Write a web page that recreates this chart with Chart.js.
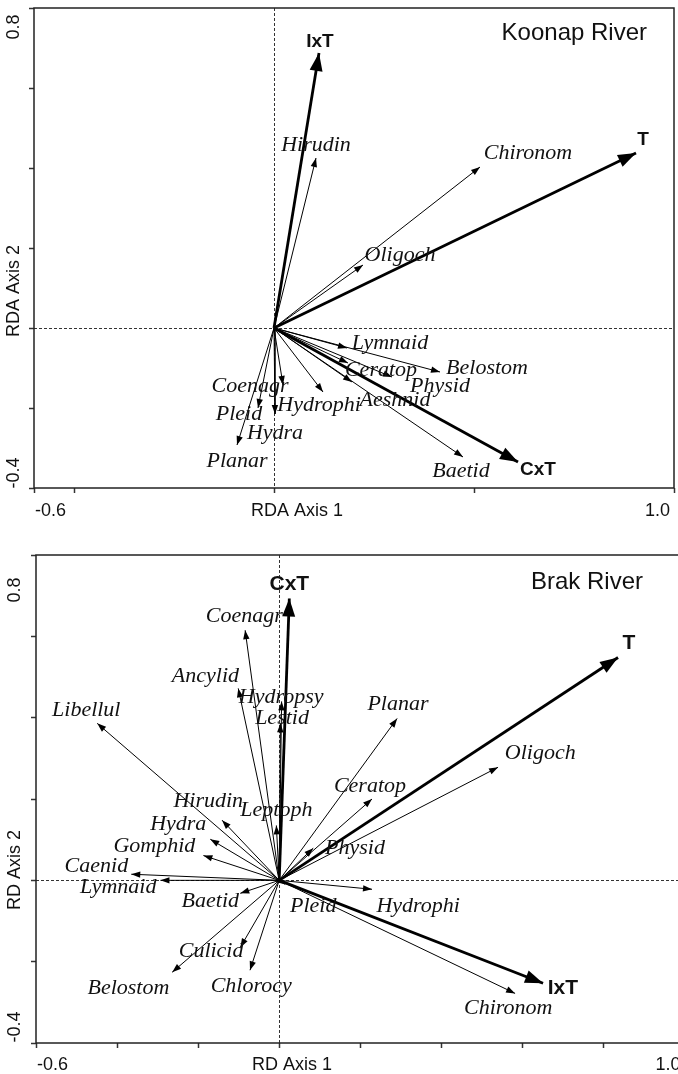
<!DOCTYPE html>
<html>
<head>
<meta charset="utf-8">
<script src="https://cdn.jsdelivr.net/npm/chart.js@4"></script>
<style>
  html, body { margin: 0; padding: 0; background: #fff; overflow: hidden; }
  #wrap { position: relative; width: 678px; height: 1074px; overflow: hidden; }
  #koonap { position: absolute; left: 0; top: 0; }
  #brak { position: absolute; left: 0; top: 530px; }
</style>
</head>
<body>
<div id="wrap">
  <canvas id="koonap" width="678" height="530"></canvas>
  <canvas id="brak" width="692" height="544"></canvas>
</div>
<script>
  // axis ranges and ticks
  const axis1Range = [-0.6, 1.0]
  const axis2Range = [-0.4, 0.8]
  const koonapTicksX = [-0.6, -0.5, 0, 0.5, 1.0]
  const brakTicksX = [-0.6, -0.4, -0.2, 0, 0.2, 0.4, 0.6, 0.8, 1.0]
  const ticksY = [-0.4, -0.2, 0, 0.2, 0.4, 0.6, 0.8]

  // Koonap River - taxa
  const koonapTaxa = ['Hirudin', 'Chironom', 'Oligoch', 'Lymnaid', 'Belostom', 'Ceratop', 'Physid',
    'Aeshnid', 'Baetid', 'Hydrophi', 'Coenagr', 'Pleid', 'Hydra', 'Planar']
  const koonapTaxaX = [0.105, 0.515, 0.2225, 0.1825, 0.415, 0.185, 0.295, 0.195, 0.4725, 0.1225, 0.0225, -0.04, 0.0025, -0.0925]
  const koonapTaxaY = [0.425, 0.4025, 0.1575, -0.05, -0.11, -0.0875, -0.1225, -0.135, -0.3225, -0.16, -0.1425, -0.2, -0.215, -0.2925]
  const koonapTaxaLabelX = [0.105, 0.635, 0.315, 0.29, 0.5325, 0.2675, 0.415, 0.3025, 0.4675, 0.1125, -0.06, -0.0875, 0.0025, -0.0925]
  const koonapTaxaLabelY = [0.4575, 0.4375, 0.1825, -0.0375, -0.1, -0.105, -0.145, -0.18, -0.3575, -0.1925, -0.145, -0.215, -0.2625, -0.3325]

  // Koonap River - explanatory terms
  const koonapTerms = ['IxT', 'T', 'CxT']
  const koonapTermsX = [0.1125, 0.905, 0.61]
  const koonapTermsY = [0.6875, 0.4375, -0.335]
  const koonapTermsLabelX = [0.115, 0.9225, 0.66]
  const koonapTermsLabelY = [0.715, 0.47, -0.355]

  // Brak River - taxa
  const brakTaxa = ['Coenagr', 'Ancylid', 'Hydropsy', 'Lestid', 'Libellul', 'Planar', 'Oligoch', 'Ceratop',
    'Physid', 'Leptoph', 'Hirudin', 'Hydra', 'Gomphid', 'Caenid', 'Lymnaid', 'Baetid', 'Pleid',
    'Hydrophi', 'Culicid', 'Chlorocy', 'Belostom', 'Chironom']
  const brakTaxaX = [-0.084, -0.101, 0.006, 0.003, -0.449, 0.291, 0.540, 0.229, 0.084, -0.007, -0.141,
    -0.170, -0.187, -0.365, -0.293, -0.096, 0.015, 0.229, -0.096, -0.072, -0.264, 0.582]
  const brakTaxaY = [0.615, 0.472, 0.44, 0.386, 0.386, 0.398, 0.278, 0.2, 0.079, 0.135, 0.148,
    0.101, 0.061, 0.015, 0.0, -0.032, -0.01, -0.022, -0.165, -0.221, -0.226, -0.278]
  const brakTaxaLabelX = [-0.086, -0.182, 0.005, 0.007, -0.476, 0.293, 0.644, 0.224, 0.187, -0.007, -0.175,
    -0.249, -0.308, -0.451, -0.397, -0.170, 0.084, 0.343, -0.168, -0.069, -0.372, 0.565]
  const brakTaxaLabelY = [0.649, 0.502, 0.45, 0.398, 0.418, 0.433, 0.312, 0.231, 0.079, 0.172, 0.194,
    0.138, 0.084, 0.034, -0.017, -0.052, -0.064, -0.064, -0.175, -0.261, -0.266, -0.315]

  // Brak River - explanatory terms
  const brakTerms = ['CxT', 'T', 'IxT']
  const brakTermsX = [0.025, 0.836, 0.651]
  const brakTermsY = [0.693, 0.548, -0.253]
  const brakTermsLabelX = [0.025, 0.863, 0.700]
  const brakTermsLabelY = [0.728, 0.583, -0.266]

  // panel layout / text settings (canvas pixels)
  const panels = {
    koonap: {
      title: 'Koonap River', titleRight: 647, titleY: 33,
      xTitle: 'RDA Axis 1', xTitleLeft: 251, xTextY: 511,
      yTitle: 'RDA Axis 2', yTitleY: 291, yTextX: 14,
      yMaxY: 27, yMinY: 473,
      termFont: 19,
      padTop: 8, padRight: 4, yAxisWidth: 34, xAxisHeight: 42,
      ticksX: koonapTicksX
    },
    brak: {
      title: 'Brak River', titleRight: 643, titleY: 52,
      xTitle: 'RD Axis 1', xTitleLeft: 252, xTextY: 535,
      yTitle: 'RD Axis 2', yTitleY: 340, yTextX: 15,
      yMaxY: 60, yMinY: 497,
      termFont: 21,
      padTop: 25, padRight: 7.5, yAxisWidth: 36, xAxisHeight: 31,
      ticksX: brakTicksX
    }
  }

  function arrowSets (names, xs, ys, lx, ly, kind) {
    return names.map((n, i) => ({
      label: n,
      kind: kind,
      labelX: lx[i],
      labelY: ly[i],
      data: [{ x: 0, y: 0 }, { x: xs[i], y: ys[i] }],
      showLine: true,
      borderColor: '#000',
      borderWidth: kind === 'term' ? 2.8 : 1,
      pointRadius: 0,
      pointHoverRadius: 0,
      tension: 0
    }))
  }

  const biplotPlugin = {
    id: 'biplot',
    beforeDatasetsDraw (chart) {
      const { ctx, chartArea: a, scales: { x, y } } = chart
      const x0 = Math.round(x.getPixelForValue(0)) + 0.5
      const y0 = Math.round(y.getPixelForValue(0)) + 0.5
      ctx.save()
      ctx.strokeStyle = '#333'
      ctx.lineWidth = 1
      ctx.setLineDash([3, 2])
      ctx.beginPath()
      ctx.moveTo(a.left, y0); ctx.lineTo(a.right, y0)
      ctx.moveTo(x0, a.top); ctx.lineTo(x0, a.bottom)
      ctx.stroke()
      ctx.restore()
    },
    afterDatasetsDraw (chart) {
      const ctx = chart.ctx
      ctx.save()
      ctx.fillStyle = '#000'
      chart.data.datasets.forEach((ds, i) => {
        const pts = chart.getDatasetMeta(i).data
        const p0 = pts[0]
        const p1 = pts[1]
        const ang = Math.atan2(p1.y - p0.y, p1.x - p0.x)
        const len = ds.kind === 'term' ? 18 : 9
        const hw = ds.kind === 'term' ? 6.5 : 3.2
        const bx = p1.x - len * Math.cos(ang)
        const by = p1.y - len * Math.sin(ang)
        ctx.beginPath()
        ctx.moveTo(p1.x, p1.y)
        ctx.lineTo(bx + hw * Math.sin(ang), by - hw * Math.cos(ang))
        ctx.lineTo(bx - hw * Math.sin(ang), by + hw * Math.cos(ang))
        ctx.closePath()
        ctx.fill()
      })
      ctx.restore()
    },
    afterDraw (chart) {
      const p = panels[chart.canvas.id]
      const { ctx, chartArea: a, scales: { x, y } } = chart
      ctx.save()

      // frame
      ctx.strokeStyle = '#222'
      ctx.lineWidth = 1.5
      ctx.strokeRect(a.left, a.top, a.right - a.left, a.bottom - a.top)

      // arrow labels
      ctx.fillStyle = '#111'
      ctx.textAlign = 'center'
      ctx.textBaseline = 'middle'
      chart.data.datasets.forEach(ds => {
        ctx.font = ds.kind === 'term'
          ? 'bold ' + p.termFont + 'px "Liberation Sans", Arial, sans-serif'
          : 'italic 22px "Liberation Serif", "Times New Roman", serif'
        ctx.fillText(ds.label, x.getPixelForValue(ds.labelX), y.getPixelForValue(ds.labelY))
      })

      // panel title
      ctx.font = '24px "Liberation Sans", Arial, sans-serif'
      ctx.textAlign = 'right'
      ctx.fillText(p.title, p.titleRight, p.titleY)

      // axis 1 texts
      ctx.font = '18px "Liberation Sans", Arial, sans-serif'
      const tx = p.ticksX
      ctx.textAlign = 'left'
      ctx.fillText(tx[0].toFixed(1), x.getPixelForValue(tx[0]) + 1, p.xTextY)
      ctx.fillText(p.xTitle, p.xTitleLeft, p.xTextY)
      ctx.textAlign = 'right'
      ctx.fillText(tx[tx.length - 1].toFixed(1), x.getPixelForValue(tx[tx.length - 1]) - 4, p.xTextY)

      // axis 2 texts (rotated)
      ctx.textAlign = 'center'
      const vert = (txt, cy) => {
        ctx.save()
        ctx.translate(p.yTextX, cy)
        ctx.rotate(-Math.PI / 2)
        ctx.fillText(txt, 0, 0)
        ctx.restore()
      }
      vert(ticksY[ticksY.length - 1].toFixed(1), p.yMaxY)
      vert(ticksY[0].toFixed(1), p.yMinY)
      vert(p.yTitle, p.yTitleY)

      ctx.restore()
    }
  }

  function makeBiplot (id, taxa, tx, ty, tlx, tly, terms, ex, ey, elx, ely) {
    const p = panels[id]
    const grid = {
      display: true,
      drawOnChartArea: false,
      drawTicks: true,
      tickLength: 5,
      tickColor: '#333',
      tickWidth: 1.5
    }
    return new Chart(document.getElementById(id), {
      type: 'scatter',
      plugins: [biplotPlugin],
      data: {
        datasets: [
          ...arrowSets(taxa, tx, ty, tlx, tly, 'taxon'),
          ...arrowSets(terms, ex, ey, elx, ely, 'term')
        ]
      },
      options: {
        responsive: false,
        animation: false,
        events: [],
        layout: { padding: { top: p.padTop, right: p.padRight, left: 0, bottom: 0 } },
        plugins: {
          legend: { display: false },
          tooltip: { enabled: false }
        },
        scales: {
          x: {
            type: 'linear',
            min: axis1Range[0],
            max: axis1Range[1],
            afterBuildTicks: s => { s.ticks = p.ticksX.map(v => ({ value: v })) },
            afterFit: s => { s.height = p.xAxisHeight },
            ticks: { display: false },
            border: { display: false },
            grid: grid
          },
          y: {
            type: 'linear',
            min: axis2Range[0],
            max: axis2Range[1],
            afterBuildTicks: s => { s.ticks = ticksY.map(v => ({ value: v })) },
            afterFit: s => { s.width = p.yAxisWidth },
            ticks: { display: false },
            border: { display: false },
            grid: grid
          }
        }
      }
    })
  }

  makeBiplot('koonap', koonapTaxa, koonapTaxaX, koonapTaxaY, koonapTaxaLabelX, koonapTaxaLabelY,
    koonapTerms, koonapTermsX, koonapTermsY, koonapTermsLabelX, koonapTermsLabelY)
  makeBiplot('brak', brakTaxa, brakTaxaX, brakTaxaY, brakTaxaLabelX, brakTaxaLabelY,
    brakTerms, brakTermsX, brakTermsY, brakTermsLabelX, brakTermsLabelY)
</script>
</body>
</html>
